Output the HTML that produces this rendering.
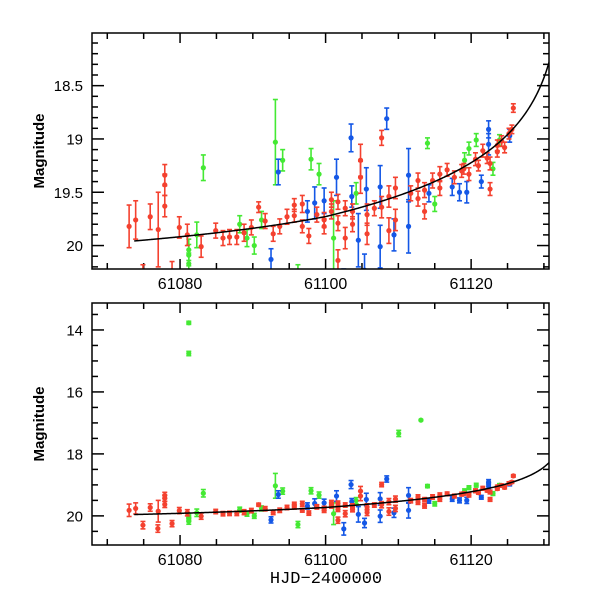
<!DOCTYPE html>
<html><head><meta charset="utf-8"><style>
body{margin:0;background:#fff;}
svg text{font-family:"Liberation Sans",sans-serif;}
</style></head><body>
<svg id="chart" width="600" height="600" viewBox="0 0 600 600" xmlns="http://www.w3.org/2000/svg">
<defs>
<clipPath id="clipTop"><rect x="92" y="33" width="457" height="236"/></clipPath>
<clipPath id="clipBot"><rect x="92" y="303" width="457" height="242"/></clipPath>
</defs>
<rect width="600" height="600" fill="#fff"/>
</svg>
<script>
// data: [HJD-2400000, magnitude, error]
const redT=[61073.0,61073.9,61075.9,61077.0,61077.9,61077.9,61077.9,61079.9,61081.0,61082.9,61084.9,61085.9,61086.8,61087.8,61088.8,61089.8,61090.8,61091.7,61092.8,61093.7,61094.7,61095.7,61095.7,61096.8,61096.8,61097.7,61098.8,61099.8,61099.8,61100.8,61100.8,61101.7,61101.7,61101.7,61102.7,61102.7,61103.7,61103.7,61104.8,61104.8,61105.7,61105.7,61106.7,61107.7,61107.7,61108.7,61108.7,61109.6,61109.6,61111.7,61112.7,61112.7,61113.6,61113.6,61114.7,61115.7,61115.7,61116.7,61117.7,61118.7,61119.7,61120.6,61121.6,61122.6,61122.6,61123.6,61124.6,61125.6,61125.8,61123.6,61124.2,61125.2,61122.2,61121.0,61119.0,61074.9,61076.95,61078.9];
const redM=[19.82,19.76,19.73,19.85,19.34,19.43,19.63,19.83,19.90,20.01,19.86,19.93,19.92,19.92,19.88,19.83,19.64,19.77,19.89,19.82,19.73,19.62,19.72,19.61,19.82,19.91,19.71,19.76,19.82,19.57,19.68,19.59,19.79,20.14,19.65,19.93,19.68,19.80,19.20,19.36,19.71,19.89,19.65,18.99,19.64,19.54,19.86,19.46,19.76,19.51,19.39,19.56,19.68,19.48,19.39,19.33,19.46,19.29,19.36,19.30,19.33,19.19,19.11,19.47,19.23,19.06,19.08,18.91,18.71,19.12,19.02,18.95,19.18,19.25,19.28,20.30,20.41,20.25];
const redE=[0.2,0.18,0.12,0.35,0.1,0.1,0.1,0.1,0.1,0.1,0.07,0.07,0.07,0.07,0.08,0.07,0.05,0.07,0.07,0.07,0.07,0.06,0.06,0.08,0.06,0.07,0.07,0.07,0.07,0.07,0.07,0.07,0.07,0.1,0.07,0.1,0.07,0.07,0.15,0.15,0.1,0.1,0.07,0.07,0.1,0.1,0.12,0.1,0.1,0.07,0.07,0.07,0.07,0.07,0.07,0.07,0.07,0.06,0.06,0.06,0.06,0.06,0.06,0.06,0.06,0.05,0.05,0.04,0.04,0.05,0.05,0.05,0.05,0.05,0.05,0.12,0.12,0.1];
const blueT=[61093.5,61092.5,61097.5,61098.5,61099.8,61101.5,61103.5,61103.6,61104.5,61105.6,61107.5,61107.5,61108.4,61109.4,61111.4,61111.4,61114.2,61117.4,61118.4,61119.4,61121.4,61122.4,61122.4,61125.3,61102.5,61105.35];
const blueM=[19.31,20.13,19.68,19.60,19.58,19.36,18.99,19.54,19.95,19.47,19.45,20.01,18.81,19.90,19.34,19.82,19.51,19.45,19.50,19.50,19.40,18.91,19.05,18.97,20.42,20.23];
const blueE=[0.12,0.1,0.1,0.15,0.12,0.17,0.13,0.1,0.25,0.2,0.2,0.2,0.1,0.15,0.25,0.25,0.08,0.08,0.08,0.1,0.06,0.08,0.1,0.06,0.2,0.15];
const greenT=[61083.2,61081.2,61081.2,61081.2,61082.3,61088.2,61089.2,61090.2,61091.2,61093.1,61094.1,61098.0,61099.1,61101.1,61104.2,61114.0,61115.0,61119.1,61119.7,61120.7,61123.0,61123.9,61096.2,61081.2,61081.2,61110.05,61113.1];
const greenM=[19.27,20.04,20.09,20.17,19.90,19.80,19.93,20.00,19.76,19.03,19.20,19.19,19.33,19.93,19.51,19.04,19.61,19.20,19.09,19.01,19.28,19.01,20.28,13.77,14.76,17.34,16.91];
const greenE=[0.12,0.1,0.1,0.1,0.12,0.08,0.08,0.08,0.08,0.4,0.1,0.1,0.1,0.35,0.1,0.05,0.07,0.07,0.06,0.06,0.06,0.05,0.1,0.05,0.07,0.1,0.02];
// model fit parameters
const fitA=17.83, fitB=1.25, fitTc=61133, fitC=0.0034;
const xTicksMajor=[61080,61100,61120];
const topYTickLabels=["18.5","19","19.5","20"];
const topYTickVals=[18.5,19,19.5,20];
const botYTickLabels=["14","16","18","20"];
const botYTickVals=[14,16,18,20];

const NS="http://www.w3.org/2000/svg";
const svg=document.getElementById('chart');
function mk(tag,attrs,parent){const e=document.createElementNS(NS,tag);for(const k in attrs)e.setAttribute(k,attrs[k]);(parent||svg).appendChild(e);return e;}
const X0=92,X1=549,T0=61067.9,T1=61130.7;
function xs(t){return X0+(t-T0)/(T1-T0)*(X1-X0);}
function fit(t){return fitA+fitB*Math.log10(fitTc-t)+fitC*Math.min(0,t-61100);}

const panels=[
 {name:'top',y0:33,y1:269,m0:18.006,m1:20.22,clip:'clipTop',minor:0.1,major:0.5,ticks:topYTickVals,labels:topYTickLabels},
 {name:'bottom',y0:303,y1:545,m0:13.13,m1:20.94,clip:'clipBot',minor:0.5,major:2,ticks:botYTickVals,labels:botYTickLabels}
];
const series=[
 {name:'green',T:greenT,M:greenM,E:greenE,c:'#44e933'},
 {name:'blue',T:blueT,M:blueM,E:blueE,c:'#1457e6'},
 {name:'red',T:redT,M:redM,E:redE,c:'#f4412f'}
];
panels.forEach(p=>{
 const ys=m=>p.y0+(m-p.m0)/(p.m1-p.m0)*(p.y1-p.y0);
 const g=mk('g',{});
 
 
 const tg=mk('g',{stroke:'#000','stroke-width':1.5},g);
 
 
 for(let t=61070;t<=61130;t+=5){
  const x=xs(t);const maj=(t%20===0);const L=maj?10:6;
  mk('line',{x1:x,x2:x,y1:p.y1,y2:p.y1-L},tg);
  mk('line',{x1:x,x2:x,y1:p.y0,y2:p.y0+L},tg);
 }
 const nStart=Math.ceil(p.m0/p.minor), nEnd=Math.floor(p.m1/p.minor);
 for(let n=nStart;n<=nEnd;n++){
  const m=n*p.minor;const y=ys(m);
  const maj=Math.abs(m/p.major-Math.round(m/p.major))<1e-6;const L=maj?12:6;
  mk('line',{x1:X0,x2:X0+L,y1:y,y2:y},tg);
  mk('line',{x1:X1,x2:X1-L,y1:y,y2:y},tg);
 }
 p.ticks.forEach((v,i)=>{
  const t=mk('text',{x:83,y:ys(v)+5.5,'text-anchor':'end','font-size':15},g);
  t.textContent=p.labels[i];
  
  
 });
 xTicksMajor.forEach(v=>{
  const t=mk('text',{x:xs(v),y:p.y1+20,'text-anchor':'middle','font-size':16},g);
  t.textContent=String(v);
  
  
 });
 const yl=mk('text',{x:0,y:0,'text-anchor':'middle','font-size':15,'font-weight':'bold',transform:`translate(44,${(p.y0+p.y1)/2}) rotate(-90)`},g);
 yl.textContent='Magnitude';
 
 
 const dg=mk('g',{'clip-path':`url(#${p.clip})`},g);
 series.forEach(s=>{
  const sg=mk('g',{stroke:s.c,fill:s.c,'stroke-width':1.6},dg);
  
  
  s.T.forEach((t,i)=>{
   const x=xs(t),y=ys(s.M[i]),ya=ys(s.M[i]-s.E[i]),yb=ys(s.M[i]+s.E[i]);
   const pg=mk('g',{},sg);
   
   
   mk('line',{x1:x,x2:x,y1:ya,y2:yb},pg);
   mk('line',{x1:x-2.5,x2:x+2.5,y1:ya,y2:ya},pg);
   mk('line',{x1:x-2.5,x2:x+2.5,y1:yb,y2:yb},pg);
   mk('circle',{cx:x,cy:y,r:2.6,stroke:'none'},pg);
  });
 });
 let d='';
 for(let t=61073.7;t<=T1+0.5;t+=0.1){d+=(d?'L':'M')+xs(t).toFixed(2)+','+ys(fit(t)).toFixed(2);}
 const fc=mk('path',{d:d,fill:'none',stroke:'#000','stroke-width':1.5},dg);
 
 
 const fr=mk('rect',{x:X0,y:p.y0,width:X1-X0,height:p.y1-p.y0,fill:'none',stroke:'#000','stroke-width':1.5},g);
 
 
});
const xt=mk('text',{x:326,y:583,'text-anchor':'middle','font-size':17,style:'font-family:"Liberation Mono",monospace'});
xt.textContent='HJD\u22122400000';


</script>
</body></html>
